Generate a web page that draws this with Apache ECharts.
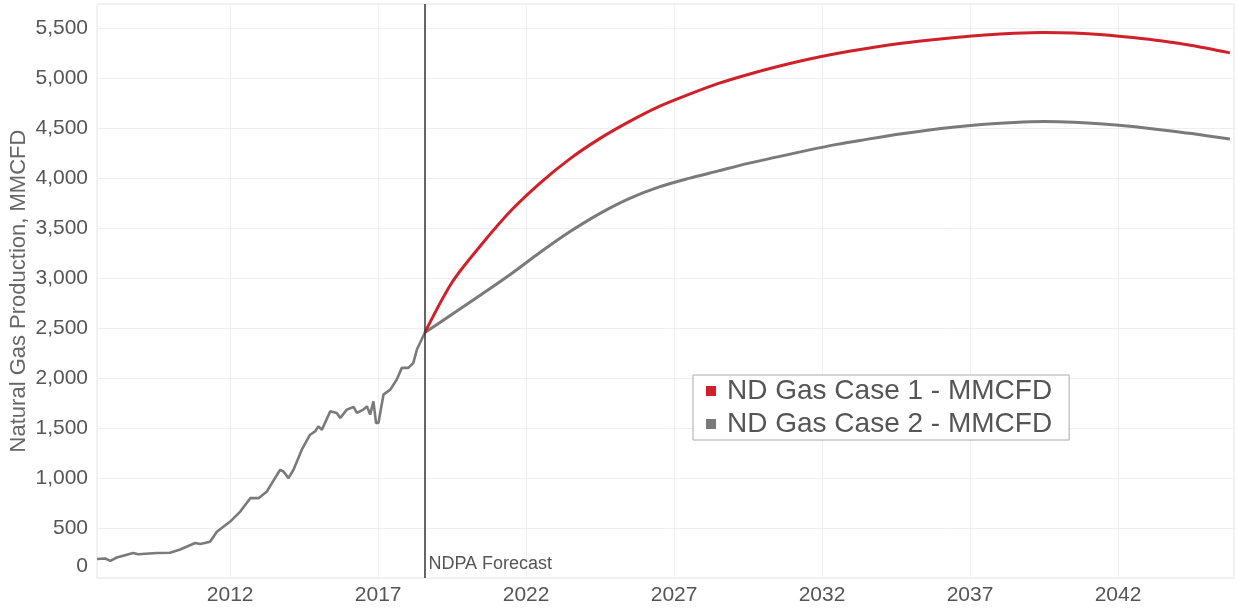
<!DOCTYPE html>
<html>
<head>
<meta charset="utf-8">
<script src="https://cdn.jsdelivr.net/npm/echarts@6/dist/echarts.min.js"></script>
<style>
  html, body { margin: 0; padding: 0; background: #fff; }
  #chart { width: 1238px; height: 609px; }
</style>
</head>
<body>
<div id="chart"></div>
<script>
// historic production (decimal year, MMCFD)
const histYears = [2007.50, 2007.78, 2007.95, 2008.17, 2008.72, 2008.89, 2009.52, 2009.97, 2010.31, 2010.82,
  2010.99, 2011.32, 2011.55, 2012.00, 2012.34, 2012.68, 2012.96, 2013.24, 2013.41, 2013.69,
  2013.80, 2013.97, 2014.14, 2014.42, 2014.70, 2014.87, 2014.98, 2015.10, 2015.38, 2015.60,
  2015.72, 2015.94, 2016.17, 2016.28, 2016.50, 2016.62, 2016.73, 2016.84, 2016.93, 2017.01,
  2017.18, 2017.41, 2017.63, 2017.80, 2018.02, 2018.19, 2018.31, 2018.58]
const histValues = [190, 195, 172, 205, 250, 238, 250, 252, 285, 350,
  340, 362, 462, 565, 665, 799, 799, 866, 950, 1083,
  1066, 1000, 1083, 1284, 1434, 1467, 1518, 1484, 1668, 1652,
  1602, 1685, 1712, 1652, 1685, 1718, 1635, 1768, 1551, 1551,
  1835, 1885, 1986, 2103, 2103, 2153, 2287, 2457]

// forecast years (shared by both cases)
const fcYears = [2018.58, 2019.5, 2020.5, 2021.5, 2022.5, 2023.5, 2024.5, 2025.5, 2026.5, 2027.5,
  2028.5, 2029.5, 2030.5, 2031.5, 2032.5, 2033.5, 2034.5, 2035.5, 2036.5, 2037.5,
  2038.5, 2039.5, 2040.5, 2041.5, 2042.5, 2043.5, 2044.5, 2045.78]
const case1Values = [2457, 2960, 3340, 3680, 3960, 4200, 4400, 4570, 4720, 4840,
  4950, 5040, 5120, 5190, 5250, 5300, 5345, 5380, 5410, 5435,
  5452, 5460, 5455, 5438, 5410, 5375, 5330, 5256]
const case2Values = [2457, 2640, 2840, 3045, 3265, 3470, 3650, 3800, 3915, 4000,
  4075, 4150, 4215, 4280, 4340, 4390, 4438, 4480, 4515, 4542,
  4560, 4568, 4562, 4545, 4518, 4485, 4448, 4393]

const xTicks = [2012, 2017, 2022, 2027, 2032, 2037, 2042]
const yTicks = [0, 500, 1000, 1500, 2000, 2500, 3000, 3500, 4000, 4500, 5000, 5500]
const forecastStart = 2018.58

const zip = (xs, ys) => xs.map((x, i) => [x, ys[i]])

const chart = echarts.init(document.getElementById('chart'))
const option = {
  backgroundColor: '#fff',
  animation: false,
  textStyle: { fontFamily: 'Liberation Sans, Arial, sans-serif' },
  grid: {
    left: 97,
    right: 4,
    top: 4,
    bottom: 31,
    outerBoundsMode: 'none',
    show: true,
    borderColor: '#e4e4e4',
    borderWidth: 1
  },
  legend: {
    data: ['ND Gas Case 1 - MMCFD', 'ND Gas Case 2 - MMCFD'],
    orient: 'vertical',
    left: 693,
    top: 375,
    padding: [2, 17, 2, 13],
    itemGap: 5,
    icon: 'rect',
    itemWidth: 10,
    itemHeight: 10,
    borderColor: '#aaa',
    borderWidth: 1,
    backgroundColor: '#fff',
    textStyle: { fontSize: 28, color: '#555', padding: [0, 0, 0, 6] }
  },
  xAxis: {
    type: 'value',
    min: 2007.5,
    max: 2045.92,
    axisLine: { show: false },
    axisTick: { show: false, customValues: xTicks },
    axisLabel: {
      customValues: xTicks,
      fontSize: 21,
      color: '#555',
      margin: 7,
      formatter: v => String(v)
    },
    splitLine: { show: true, lineStyle: { color: '#efefef', width: 1 } }
  },
  yAxis: {
    type: 'value',
    min: 0,
    max: 5745,
    name: 'Natural Gas Production, MMCFD',
    nameLocation: 'middle',
    nameGap: 67,
    nameMoveOverlap: false,
    nameTextStyle: { fontSize: 22, color: '#666' },
    axisLine: { show: false },
    axisTick: { show: false, customValues: yTicks },
    axisLabel: {
      customValues: yTicks,
      fontSize: 21,
      color: '#555',
      margin: 9,
      formatter: v => v === 0 ? '{z|0}' : v.toLocaleString('en-US'),
      rich: { z: { fontSize: 21, color: '#555', padding: [0, 0, 24, 0] } }
    },
    splitLine: { show: true, lineStyle: { color: '#efefef', width: 1 } }
  },
  series: [
    {
      name: 'Historical',
      type: 'line',
      data: zip(histYears, histValues),
      showSymbol: false,
      lineStyle: { color: '#7a7a7a', width: 2.6 },
      itemStyle: { color: '#7a7a7a' },
      z: 3,
      markLine: {
        silent: true,
        symbol: ['none', 'none'],
        label: { show: false },
        lineStyle: { color: '#333', width: 1.5, type: 'solid' },
        data: [{ xAxis: forecastStart }]
      },
      markPoint: {
        silent: true,
        symbol: 'rect',
        symbolSize: 1,
        itemStyle: { color: 'rgba(0,0,0,0)' },
        label: {
          show: true,
          position: [4, -22],
          formatter: 'NDPA Forecast',
          fontSize: 18,
          color: '#555'
        },
        data: [{ coord: [forecastStart, 0] }]
      }
    },
    {
      name: 'ND Gas Case 2 - MMCFD',
      type: 'line',
      data: zip(fcYears, case2Values),
      smooth: 0.3,
      showSymbol: false,
      lineStyle: { color: '#7a7a7a', width: 3 },
      itemStyle: { color: '#7a7a7a' },
      z: 2
    },
    {
      name: 'ND Gas Case 1 - MMCFD',
      type: 'line',
      data: zip(fcYears, case1Values),
      smooth: 0.3,
      showSymbol: false,
      lineStyle: { color: '#d0202a', width: 3 },
      itemStyle: { color: '#d0202a' },
      z: 2
    }
  ]
}
chart.setOption(option)
</script>
</body>
</html>
